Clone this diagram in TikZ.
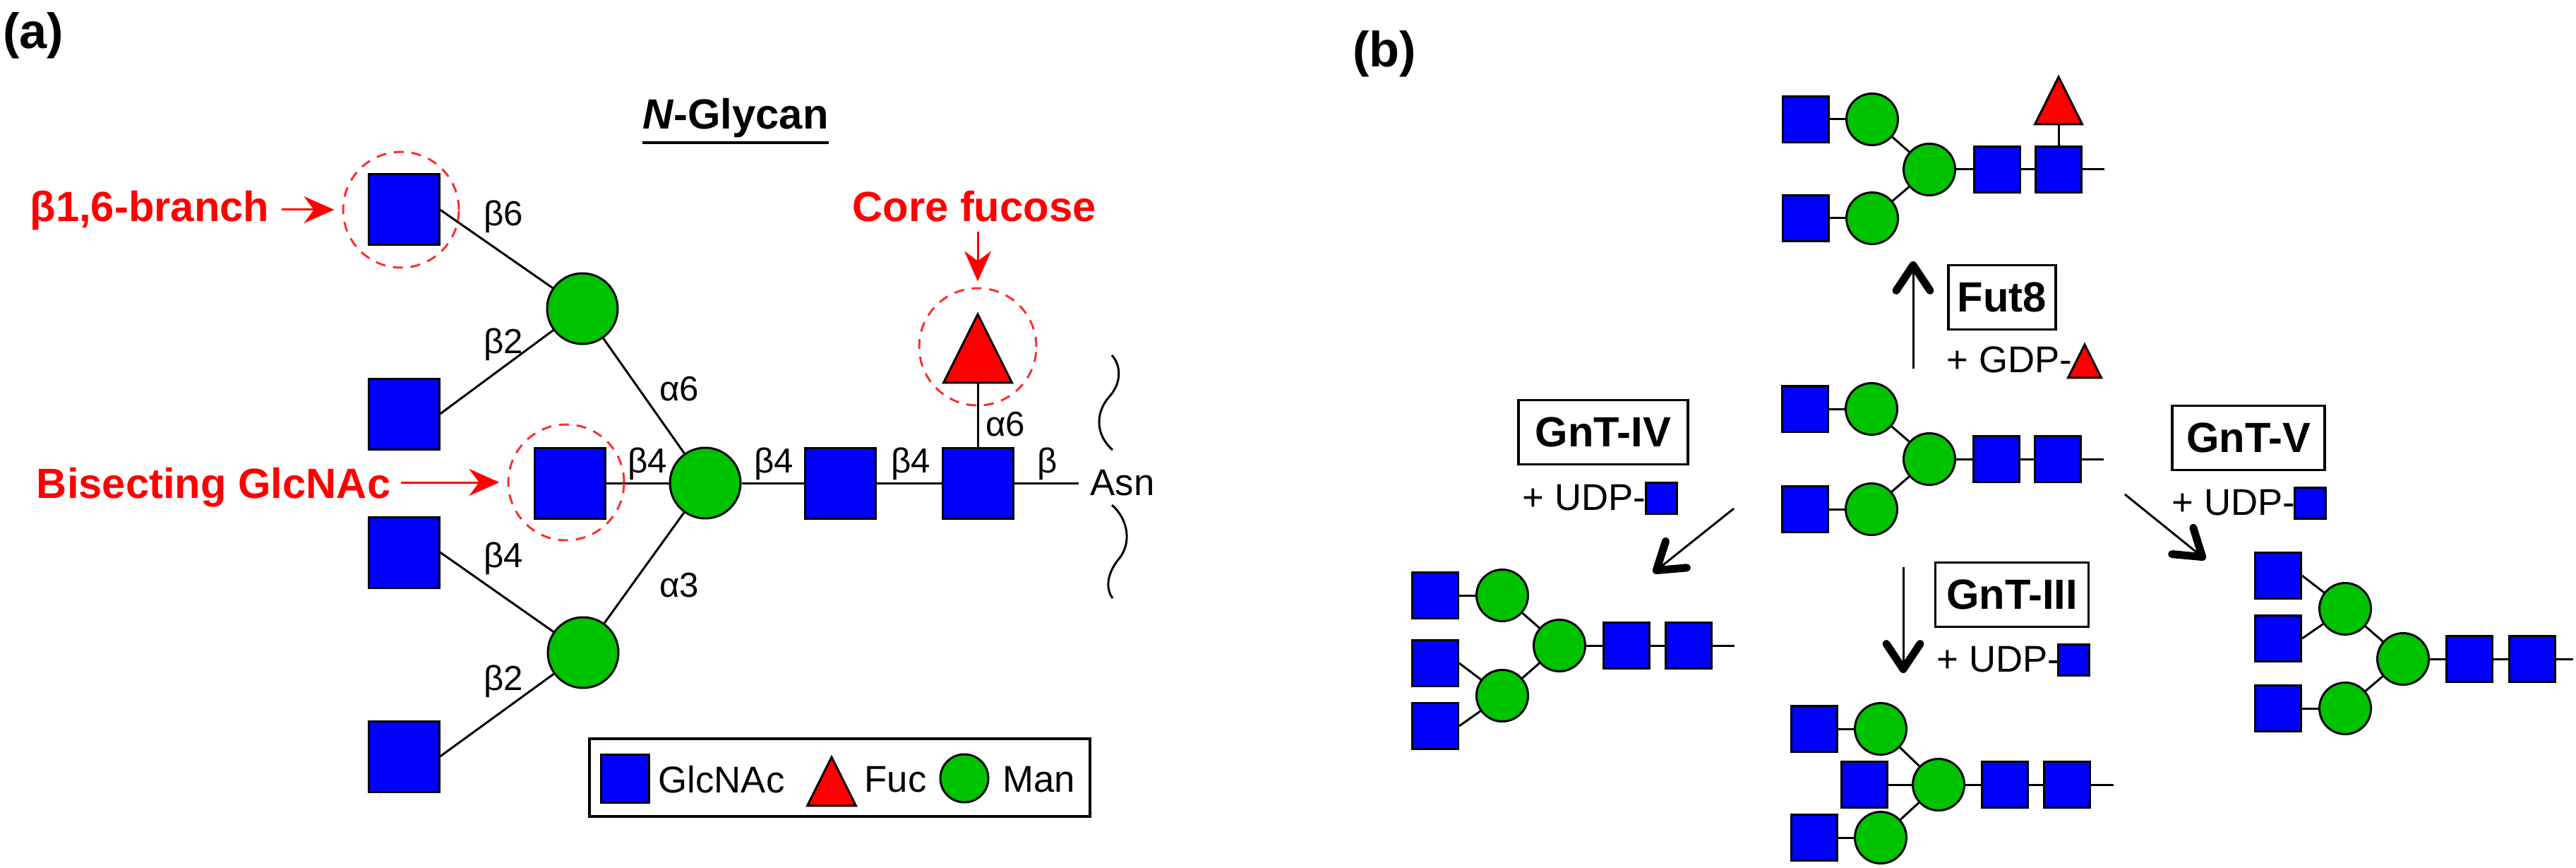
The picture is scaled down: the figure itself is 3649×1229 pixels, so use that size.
\documentclass[tikz,border=0pt]{standalone}
\usepackage{fontspec}
\setmainfont{Liberation Sans}
\usetikzlibrary{arrows.meta,shapes.geometric}

\definecolor{gblue}{RGB}{0,0,255}
\definecolor{mgreen}{RGB}{0,195,0}
\definecolor{fred}{RGB}{255,0,0}
\definecolor{ringred}{RGB}{255,45,45}

\tikzset{
  glcnac/.style={rectangle,draw,fill=gblue,line width=0.3mm,inner sep=0pt,minimum size=#1},
  glcnac/.default=6.5mm,
  man/.style={circle,draw,fill=mgreen,line width=0.3mm,inner sep=0pt,minimum size=#1},
  man/.default=7.3mm,
  fuc/.style={isosceles triangle,isosceles triangle stretches,shape border rotate=90,
    draw,fill=fred,line width=0.3mm,inner sep=0pt,minimum width=#1,minimum height=#1,anchor=apex},
  link/.style={line width=0.3mm},
  ring/.style={circle,draw=ringred,dash pattern=on 1.4mm off 1.1mm,line width=0.3mm,
    inner sep=0pt,minimum size=#1},
  note/.style={text=fred,font=\fontsize{17}{20}\selectfont\bfseries,inner sep=0pt},
  notearrow/.style={draw=fred,line width=0.3mm,-{Stealth[length=4.3mm,width=3.8mm,inset=1.4mm]}},
  lab/.style={font=\fontsize{14}{16}\selectfont,inner sep=0pt,anchor=base},
  txt/.style={font=\fontsize{15}{18}\selectfont,inner sep=0pt,anchor=west},
  enzyme/.style={draw,line width=0.35mm,font=\fontsize{17}{20}\selectfont\bfseries,
    inner sep=0pt,minimum height=9.1mm},
  react/.style={line width=0.3mm,-{Straight Barb[length=3.6mm,width=4.8mm,line width=1.1mm,round]}}
}

\begin{document}
\begin{tikzpicture}[x=0.1mm,y=-0.1mm]
\useasboundingbox (0,0) rectangle (3649,1229);

% (a) N-glycan
\node[font=\fontsize{20}{24}\selectfont\bfseries] (pa) at (47,50) {(a)};
\node[font=\fontsize{17}{20}\selectfont\bfseries,inner sep=0pt,anchor=base] (title) at (1042,183) {\textit{N}-Glycan};
\draw[line width=0.4mm] ([yshift=-0.6mm]title.south west) -- ([yshift=-0.6mm]title.south east);

\node[glcnac=10mm] (a6) at (572,297) {};
\node[glcnac=10mm] (a2u) at (572,586) {};
\node[glcnac=10mm] (a4) at (572,782) {};
\node[glcnac=10mm] (a2l) at (572,1071) {};
\node[man=10mm] (m6) at (825,437) {};
\node[man=10mm] (m3) at (826,924) {};
\node[man=10mm] (mc) at (999,684) {};
\node[glcnac=10mm] (bis) at (807,684) {};
\node[glcnac=10mm] (gn2) at (1190,684) {};
\node[glcnac=10mm] (gn1) at (1385,684) {};
\node[fuc=9.7mm] (fc) at (1385,441) {};
\coordinate (asn) at (1528,684);

\draw[link] (a6.east) -- (m6);
\draw[link] (a2u.east) -- (m6);
\draw[link] (a4.east) -- (m3);
\draw[link] (a2l.east) -- (m3);
\foreach \p/\q in {m6/mc,m3/mc,bis/mc,mc/gn2,gn2/gn1,gn1/asn,fc/gn1}
\draw[link] (\p) -- (\q);

\node[lab] (l1) at (713,320) {β6};
\node[lab] (l2) at (713,500) {β2};
\node[lab] (l3) at (713,803) {β4};
\node[lab] (l4) at (713,977) {β2};
\node[lab] (l5) at (962,567) {α6};
\node[lab] (l6) at (962,845) {α3};
\node[lab] (l7) at (917,669) {β4};
\node[lab] (l8) at (1096,669) {β4};
\node[lab] (l9) at (1290,669) {β4};
\node[lab] (l10) at (1484,669) {β};
\node[lab] (l11) at (1424,617) {α6};
\node[txt] (asnl) at (1544,684) {Asn};

\draw[link] (1575,503) .. controls (1590,520) and (1587,545) .. (1571,562)
  .. controls (1551,585) and (1552,616) .. (1576,637);
\draw[link] (1575,715) .. controls (1598,735) and (1603,768) .. (1586,790)
  .. controls (1569,810) and (1565,832) .. (1576,847);

% highlighted residues
\node[ring=16.4mm] (r16) at (568,297) {};
\node[ring=16.4mm] (rbis) at (802,683) {};
\node[ring=16.6mm] (rfuc) at (1385,491) {};
\node[note,anchor=base east] (n16) at (382,314) {β1,6-branch};
\node[note,anchor=base east] (nbis) at (554,705) {Bisecting GlcNAc};
\node[note,anchor=base] (nfuc) at (1380,314) {Core fucose};
\draw[notearrow,shorten <=1.7mm,shorten >=1.1mm] (n16.east |- r16.west) -- (r16.west);
\draw[notearrow,shorten <=1.4mm,shorten >=1.1mm] (nbis.east |- rbis.west) -- (rbis.west);
\draw[notearrow,shorten <=1.3mm,shorten >=0.8mm] (nfuc.south -| rfuc.north) -- (rfuc.north);

% legend
\node[draw,line width=0.35mm,inner sep=0pt,minimum width=70.9mm,minimum height=11mm] (legend) at (1189.5,1101) {};
\node[glcnac=6.8mm] (lg1) at (885,1102) {};
\node[txt] (lt1) at (932,1104) {GlcNAc};
\node[fuc=6.9mm] (lg2) at (1178,1068) {};
\node[txt] (lt2) at (1224,1104) {Fuc};
\node[man=6.8mm] (lg3) at (1366,1102) {};
\node[txt] (lt3) at (1420,1104) {Man};

% (b) branching enzymes
\node[font=\fontsize{20}{24}\selectfont\bfseries] (pb) at (1961,76) {(b)};

% product of Fut8
\node[glcnac] (f1) at (2558,169) {};
\node[man] (f2) at (2652,169) {};
\node[glcnac] (f3) at (2558,309) {};
\node[man] (f4) at (2652,309) {};
\node[man] (f5) at (2733,240) {};
\node[glcnac] (f6) at (2829,240) {};
\node[glcnac] (f7) at (2916,240) {};
\node[fuc=6.7mm] (f8) at (2916,105) {};
\coordinate (f9) at (2981,240);
\foreach \p/\q in {f1/f2,f3/f4,f2/f5,f4/f5,f5/f6,f6/f7,f7/f9,f8/f7}
\draw[link] (\p) -- (\q);

% substrate
\node[glcnac] (s1) at (2557,579) {};
\node[man] (s2) at (2651,579) {};
\node[glcnac] (s3) at (2557,721) {};
\node[man] (s4) at (2651,721) {};
\node[man] (s5) at (2733,650) {};
\node[glcnac] (s6) at (2828,650) {};
\node[glcnac] (s7) at (2915,650) {};
\coordinate (s8) at (2980,650);
\foreach \p/\q in {s1/s2,s3/s4,s2/s5,s4/s5,s5/s6,s6/s7,s7/s8}
\draw[link] (\p) -- (\q);

% product of GnT-IV
\node[glcnac] (q1) at (2033,843) {};
\node[man] (q2) at (2128,843) {};
\node[glcnac] (q3) at (2033,939) {};
\node[glcnac] (q4) at (2033,1028) {};
\node[man] (q5) at (2128,985) {};
\node[man] (q6) at (2209,914) {};
\node[glcnac] (q7) at (2304,914) {};
\node[glcnac] (q8) at (2392,914) {};
\coordinate (q9) at (2457,914);
\draw[link] (q3.east) -- (q5);
\draw[link] (q4.east) -- (q5);
\foreach \p/\q in {q1/q2,q2/q6,q5/q6,q6/q7,q7/q8,q8/q9}
\draw[link] (\p) -- (\q);

% product of GnT-III
\node[glcnac] (t1) at (2570,1032) {};
\node[man] (t2) at (2664,1032) {};
\node[glcnac] (t3) at (2641,1111) {};
\node[glcnac] (t4) at (2570,1186) {};
\node[man] (t5) at (2664,1186) {};
\node[man] (t6) at (2746,1111) {};
\node[glcnac] (t7) at (2840,1111) {};
\node[glcnac] (t8) at (2928,1111) {};
\coordinate (t9) at (2994,1111);
\foreach \p/\q in {t1/t2,t4/t5,t2/t6,t5/t6,t3/t6,t6/t7,t7/t8,t8/t9}
\draw[link] (\p) -- (\q);

% product of GnT-V
\node[glcnac] (v1) at (3227,815) {};
\node[glcnac] (v2) at (3227,904) {};
\node[glcnac] (v3) at (3227,1003) {};
\node[man] (v4) at (3322,862) {};
\node[man] (v5) at (3322,1003) {};
\node[man] (v6) at (3404,933) {};
\node[glcnac] (v7) at (3498,933) {};
\node[glcnac] (v8) at (3587,933) {};
\coordinate (v9) at (3645,933);
\draw[link] (v1.east) -- (v4);
\draw[link] (v2.east) -- (v4);
\foreach \p/\q in {v3/v5,v4/v6,v5/v6,v6/v7,v7/v8,v8/v9}
\draw[link] (\p) -- (\q);

% enzymes and donors
\node[enzyme,minimum width=15.2mm] (fut8) at (2836,421) {Fut8};
\node[enzyme,minimum width=24mm] (gnt4) at (2271,612) {GnT-IV};
\node[enzyme,minimum width=21.6mm] (gnt5) at (3185,620) {GnT-V};
\node[enzyme,minimum width=21.7mm] (gnt3) at (2850,842) {GnT-III};
\node[txt] (gdp) at (2757,509) {+ GDP-};
\node[fuc=4.7mm] (gdpf) at (2953,484) {};
\node[txt] (udp4) at (2156,705) {+ UDP-};
\node[glcnac=4.4mm] (udp4g) at (2353,705) {};
\node[txt] (udp5) at (3076,712) {+ UDP-};
\node[glcnac=4.4mm] (udp5g) at (3272,712) {};
\node[txt] (udp3) at (2743,934) {+ UDP-};
\node[glcnac=4.4mm] (udp3g) at (2937,934) {};

\coordinate (fa0) at (2710,522);
\coordinate (fa1) at (2710,370);
\coordinate (ga0) at (2456,720);
\coordinate (ga1) at (2342,811);
\coordinate (ha0) at (2696,803);
\coordinate (ha1) at (2696,953);
\coordinate (va0) at (3010,700);
\coordinate (va1) at (3124,792);
\draw[react] (fa0) -- (fa1);
\draw[react] (ga0) -- (ga1);
\draw[react] (ha0) -- (ha1);
\draw[react] (va0) -- (va1);
\end{tikzpicture}
\end{document}
